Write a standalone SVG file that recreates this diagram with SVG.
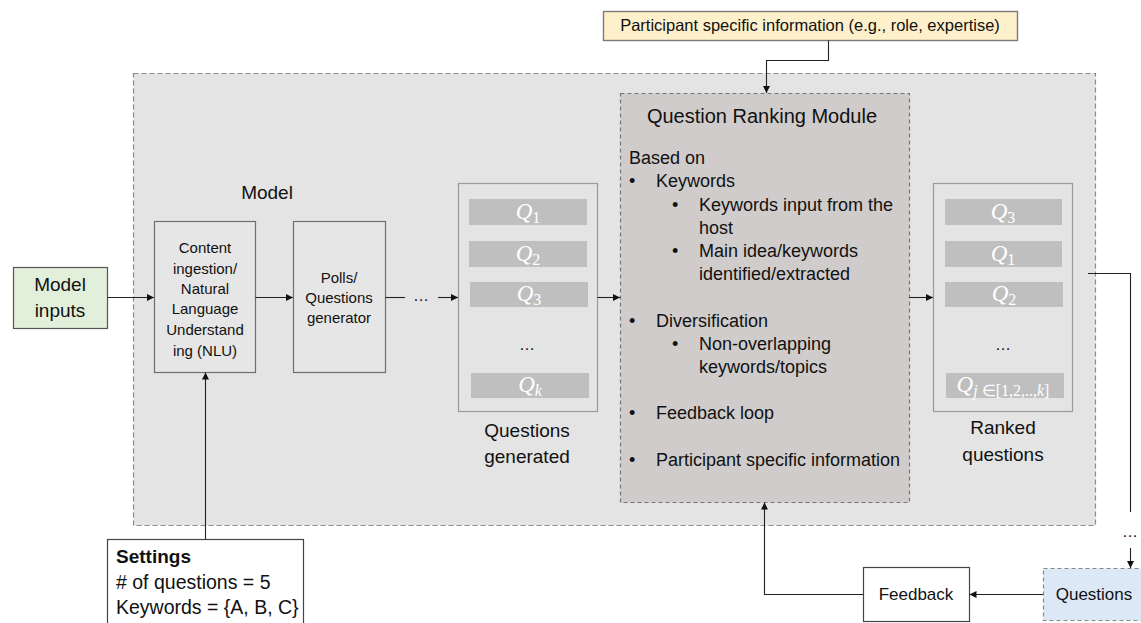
<svg xmlns="http://www.w3.org/2000/svg" width="1141" height="623" viewBox="0 0 1141 623">
  <style>
    text { font-family: "Liberation Sans", Arial, sans-serif; fill: #111; }
    .box { fill: #e6e6e6; stroke: #6f6f6f; stroke-width: 1.2; }
    .list { fill: none; stroke: #9a9a9a; stroke-width: 1.2; }
    .bar { fill: #bfbfbf; }
    .q { font-family: "Liberation Serif", "Times New Roman", serif; font-style: italic; fill: #fff; font-size: 23px; text-anchor: middle; }
    .sub { font-size: 16px; }
    .up { font-style: normal; }
    .wire { fill: none; stroke: #222; stroke-width: 1.1; }
    .mid { text-anchor: middle; }
  </style>
  <defs>
    <marker id="arr" viewBox="0 0 10 10" refX="10" refY="5" markerWidth="7" markerHeight="7" markerUnits="userSpaceOnUse" orient="auto">
      <path d="M0,0 L10,5 L0,10 z" fill="#111"/>
    </marker>
  </defs>

  <rect width="1141" height="623" fill="#ffffff"/>

  <!-- model container -->
  <g id="model">
    <rect x="133.5" y="73.5" width="962" height="452" fill="#e4e4e4" stroke="#8a8a8a" stroke-width="1.2" stroke-dasharray="5,3"/>
    <text x="267" y="199" class="mid" font-size="19">Model</text>
  </g>

  <!-- participant info -->
  <g id="participant-info">
    <rect x="603.5" y="11.5" width="414" height="29" fill="#fff0cc" stroke="#7a7a7a" stroke-width="1.4"/>
    <text x="810" y="31" class="mid" font-size="16.5">Participant specific information (e.g., role, expertise)</text>
  </g>

  <!-- model inputs -->
  <g id="model-inputs">
    <rect x="13.5" y="267.5" width="94" height="61" fill="#e2efda" stroke="#555" stroke-width="1.2"/>
    <text x="60" y="291" class="mid" font-size="19">Model</text>
    <text x="60" y="317" class="mid" font-size="19">inputs</text>
  </g>

  <!-- content ingestion -->
  <g id="nlu">
    <rect class="box" x="154.5" y="221.5" width="101" height="151"/>
    <g class="mid" font-size="15">
      <text x="205" y="253">Content</text>
      <text x="205" y="274">ingestion/</text>
      <text x="205" y="294">Natural</text>
      <text x="205" y="314">Language</text>
      <text x="205" y="335">Understand</text>
      <text x="205" y="356">ing (NLU)</text>
    </g>
  </g>

  <!-- generator -->
  <g id="generator">
    <rect class="box" x="293.5" y="221.5" width="92" height="151"/>
    <g class="mid" font-size="15">
      <text x="339" y="283">Polls/</text>
      <text x="339" y="303">Questions</text>
      <text x="339" y="323">generator</text>
    </g>
  </g>

  <!-- generated questions -->
  <g id="questions-generated">
    <rect class="list" x="458.5" y="183.5" width="139" height="228"/>
    <rect class="bar" x="469" y="199" width="118" height="26"/>
    <rect class="bar" x="469" y="241" width="118" height="26"/>
    <rect class="bar" x="470" y="282" width="118" height="25"/>
    <rect class="bar" x="471" y="373" width="118" height="25"/>
    <text class="q" x="528" y="219">Q<tspan class="sub up" dy="4">1</tspan></text>
    <text class="q" x="528" y="261">Q<tspan class="sub up" dy="4">2</tspan></text>
    <text class="q" x="529" y="301">Q<tspan class="sub up" dy="4">3</tspan></text>
    <text class="q" x="530" y="392">Q<tspan class="sub" dy="4">k</tspan></text>
    <text x="527" y="350" class="mid" font-size="16">…</text>
    <text x="527" y="437" class="mid" font-size="19">Questions</text>
    <text x="527" y="463" class="mid" font-size="19">generated</text>
  </g>

  <!-- ranking module -->
  <g id="ranking-module">
    <rect x="620.5" y="93.5" width="289" height="409" fill="#d0cccc" stroke="#777" stroke-width="1.2" stroke-dasharray="4,3"/>
    <text x="762" y="123" class="mid" font-size="20">Question Ranking Module</text>
    <g font-size="18">
      <text x="629" y="164">Based on</text>
      <text x="629" y="187">•</text><text x="656" y="187">Keywords</text>
      <text x="672" y="211">•</text><text x="699" y="211">Keywords input from the</text>
      <text x="699" y="234">host</text>
      <text x="672" y="257">•</text><text x="699" y="257">Main idea/keywords</text>
      <text x="699" y="280">identified/extracted</text>
      <text x="629" y="327">•</text><text x="656" y="327">Diversification</text>
      <text x="672" y="350">•</text><text x="699" y="350">Non-overlapping</text>
      <text x="699" y="373">keywords/topics</text>
      <text x="629" y="419">•</text><text x="656" y="419">Feedback loop</text>
      <text x="629" y="466">•</text><text x="656" y="466">Participant specific information</text>
    </g>
  </g>

  <!-- ranked questions -->
  <g id="ranked-questions">
    <rect class="list" x="933.5" y="183.5" width="139" height="228"/>
    <rect class="bar" x="945" y="199" width="117" height="26"/>
    <rect class="bar" x="945" y="241" width="117" height="26"/>
    <rect class="bar" x="945" y="282" width="118" height="25"/>
    <rect class="bar" x="946" y="373" width="118" height="25"/>
    <text class="q" x="1003" y="219">Q<tspan class="sub up" dy="4">3</tspan></text>
    <text class="q" x="1003" y="261">Q<tspan class="sub up" dy="4">1</tspan></text>
    <text class="q" x="1004" y="301">Q<tspan class="sub up" dy="4">2</tspan></text>
    <text class="q" x="1003" y="392">Q<tspan class="sub" dy="4">j <tspan class="up">∈[1,2,..,</tspan>k<tspan class="up">]</tspan></tspan></text>
    <text x="1003" y="350" class="mid" font-size="16">…</text>
    <text x="1003" y="434" class="mid" font-size="19">Ranked</text>
    <text x="1003" y="461" class="mid" font-size="19">questions</text>
  </g>

  <!-- settings -->
  <g id="settings">
    <rect x="107.5" y="539.5" width="196" height="100" fill="#fff" stroke="#444" stroke-width="1.2"/>
    <text x="116" y="563" font-size="19" font-weight="bold">Settings</text>
    <text x="116" y="589" font-size="19.5"># of questions = 5</text>
    <text x="116" y="614" font-size="19.5">Keywords = {A, B, C}</text>
  </g>

  <!-- feedback -->
  <g id="feedback">
    <rect x="863.5" y="567.5" width="106" height="54" fill="#fff" stroke="#444" stroke-width="1.2"/>
    <text x="916" y="600" class="mid" font-size="17">Feedback</text>
  </g>

  <!-- questions delivered -->
  <g id="questions-out">
    <rect x="1043.5" y="568.5" width="105" height="52" fill="#dde8f6" stroke="#888" stroke-width="1.2" stroke-dasharray="4,3"/>
    <text x="1094" y="600" class="mid" font-size="17">Questions</text>
  </g>

  <!-- connectors -->
  <g id="connectors">
    <path class="wire" d="M107.5,297.5 H154" marker-end="url(#arr)"/>
    <path class="wire" d="M255.5,297.5 H293" marker-end="url(#arr)"/>
    <path class="wire" d="M385.5,297.5 H405"/>
    <text x="421" y="301" class="mid" font-size="16">…</text>
    <path class="wire" d="M438,297.5 H458" marker-end="url(#arr)"/>
    <path class="wire" d="M597.5,297.5 H620" marker-end="url(#arr)"/>
    <path class="wire" d="M909.5,297.5 H933" marker-end="url(#arr)"/>
    <path class="wire" d="M828.5,40.5 V60.5 H766.5 V93" marker-end="url(#arr)"/>
    <path class="wire" d="M205.5,539 V372.5" marker-end="url(#arr)"/>
    <path class="wire" d="M1088,273.5 H1130.5 V512"/>
    <text x="1130" y="537" class="mid" font-size="16">…</text>
    <path class="wire" d="M1130.5,548 V568" marker-end="url(#arr)"/>
    <path class="wire" d="M1043,594.5 H969.5" marker-end="url(#arr)"/>
    <path class="wire" d="M863,594.5 H764.5 V502.5" marker-end="url(#arr)"/>
  </g>
</svg>
